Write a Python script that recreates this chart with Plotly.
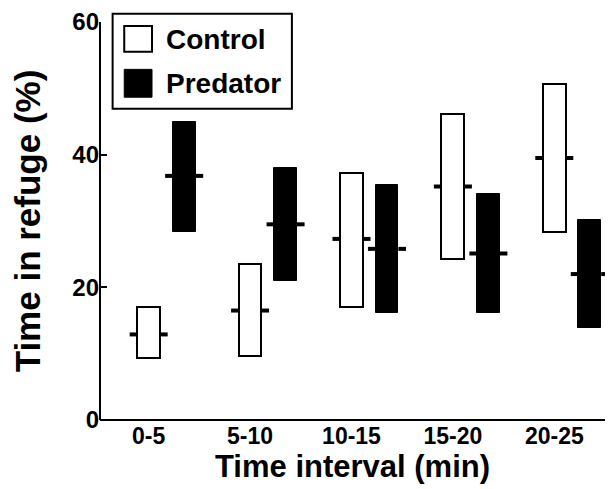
import plotly.graph_objects as go

categories = ["0-5", "5-10", "10-15", "15-20", "20-25"]
control_low = [9.3, 9.6, 17.0, 24.3, 28.3]
control_high = [17.1, 23.5, 37.3, 46.1, 50.7]
control_mid = [12.9, 16.5, 27.3, 35.2, 39.5]
predator_low = [28.4, 21.0, 16.2, 16.2, 13.8]
predator_high = [45.0, 38.0, 35.4, 34.1, 30.1]
predator_mid = [36.8, 29.5, 25.8, 25.1, 22.0]

BAR_W = 0.225
PRED_OFFSET = 0.35
STUB = 0.075
FONT = "Liberation Sans, Arial, sans-serif"

xc = list(range(len(categories)))
xp = [i + PRED_OFFSET for i in xc]

fig = go.Figure()

fig.add_trace(go.Bar(
    name="Control", x=xc,
    y=[h - l for h, l in zip(control_high, control_low)], base=control_low,
    width=BAR_W, marker=dict(color="white", line=dict(color="black", width=2)),
    showlegend=False, hoverinfo="skip"))
fig.add_trace(go.Bar(
    name="Predator", x=xp,
    y=[h - l for h, l in zip(predator_high, predator_low)], base=predator_low,
    width=BAR_W, marker=dict(color="black", line=dict(color="black", width=1)),
    showlegend=False, hoverinfo="skip"))


def stubs(centers, mids):
    xs, ys = [], []
    for c, m in zip(centers, mids):
        xs += [c - BAR_W / 2 - STUB, c - BAR_W / 2, None, c + BAR_W / 2, c + BAR_W / 2 + STUB, None]
        ys += [m, m, None, m, m, None]
    return xs, ys


for centers, mids, nm in [(xc, control_mid, "Control median"), (xp, predator_mid, "Predator median")]:
    sx, sy = stubs(centers, mids)
    fig.add_trace(go.Scatter(x=sx, y=sy, mode="lines", line=dict(color="black", width=4),
                             showlegend=False, hoverinfo="skip", name=nm, cliponaxis=False))

shapes = [
    # axis lines
    dict(type="line", xref="paper", yref="paper", x0=0, x1=0, y0=0, y1=1,
         line=dict(color="black", width=2)),
    dict(type="line", xref="paper", yref="paper", x0=0, x1=1, y0=0, y1=0,
         line=dict(color="black", width=2)),
    # boxed key (legend)
    dict(type="rect", xref="paper", yref="paper", x0=0.025, x1=0.380, y0=0.782, y1=1.021,
         line=dict(color="black", width=2), fillcolor="white"),
    dict(type="rect", xref="paper", yref="paper", x0=0.048, x1=0.103, y0=0.925, y1=0.99,
         line=dict(color="black", width=2), fillcolor="white"),
    dict(type="rect", xref="paper", yref="paper", x0=0.048, x1=0.103, y0=0.811, y1=0.881,
         line=dict(color="black", width=1), fillcolor="black"),
]
annotations = [
    dict(text="Control", xref="paper", yref="paper", x=0.126, y=0.957, xanchor="left", yanchor="middle",
         showarrow=False, font=dict(family=FONT, size=28, color="black", weight="bold")),
    dict(text="Predator", xref="paper", yref="paper", x=0.126, y=0.845, xanchor="left", yanchor="middle",
         showarrow=False, font=dict(family=FONT, size=28, color="black", weight="bold")),
]

fig.update_layout(
    template="none",
    width=608, height=481,
    margin=dict(l=92, r=11, t=14, b=69, pad=0),
    paper_bgcolor="white", plot_bgcolor="white",
    barmode="overlay", bargap=0,
    shapes=shapes, annotations=annotations,
    font=dict(family=FONT, color="black", weight="bold"),
    xaxis=dict(
        range=[-0.48, 4.50], tickvals=xc, ticktext=categories,
        showline=False, ticks="", showgrid=False, zeroline=False,
        automargin=False, ticklabeloverflow="allow",
        tickfont=dict(family=FONT, size=23, weight="bold"),
        title=dict(text="Time interval (min)", font=dict(family=FONT, size=31, weight="bold"), standoff=0),
    ),
    yaxis=dict(
        range=[0, 60], tickvals=[0, 20, 40, 60],
        showline=False, ticks="inside", ticklen=7, tickwidth=2,
        tickcolor="black", showgrid=False, zeroline=False, automargin=False,
        ticklabeloverflow="allow",
        tickfont=dict(family=FONT, size=24, weight="bold"),
        title=dict(text="Time in refuge (%)", font=dict(family=FONT, size=35, weight="bold"), standoff=21),
    ),
)

fig.write_html("out.html")
